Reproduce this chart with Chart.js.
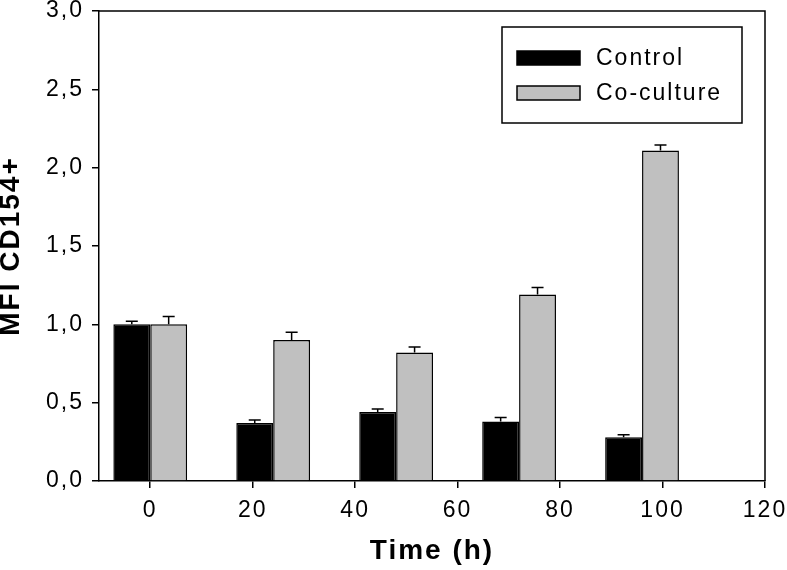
<!DOCTYPE html>
<html>
<head>
<meta charset="utf-8">
<script src="https://cdn.jsdelivr.net/npm/chart.js@4.4.1/dist/chart.umd.min.js"></script>
<style>
  html, body { margin: 0; padding: 0; background: #fff; }
  #wrap { width: 787px; height: 570px; }
</style>
</head>
<body>
<div id="wrap"><canvas id="chart"></canvas></div>
<script>
// time points (h) and MFI values
const times        = [0, 24, 48, 72, 96];
const control      = [1.00, 0.37, 0.44, 0.38, 0.28];
const controlErr   = [0.02, 0.02, 0.02, 0.025, 0.015];
const coculture    = [1.00, 0.90, 0.82, 1.19, 2.11];
const cocultureErr = [0.05, 0.05, 0.035, 0.045, 0.035];

const xTicks      = [0, 20, 40, 60, 80, 100, 120];
const yTicks      = [0, 0.5, 1.0, 1.5, 2.0, 2.5, 3.0];
const yTickLabels = ['0,0', '0,5', '1,0', '1,5', '2,0', '2,5', '3,0'];

const FONT = "'Liberation Sans', Arial, sans-serif";

// one-sided (upper) error bars on top of each bar
const errorBars = {
  id: 'errorBars',
  afterDatasetsDraw(chart) {
    const { ctx } = chart;
    const y = chart.scales.y;
    const errs = [controlErr, cocultureErr];
    ctx.save();
    ctx.strokeStyle = '#000';
    ctx.lineWidth = 1.5;
    chart.data.datasets.forEach((ds, di) => {
      chart.getDatasetMeta(di).data.forEach((bar, i) => {
        const top = y.getPixelForValue(ds.data[i].y + errs[di][i]);
        ctx.beginPath();
        ctx.moveTo(bar.x, bar.y);
        ctx.lineTo(bar.x, top);
        ctx.moveTo(bar.x - 6, top);
        ctx.lineTo(bar.x + 6, top);
        ctx.stroke();
      });
    });
    ctx.restore();
  }
};

// top/right frame + boxed legend inside the plot
const frameLegend = {
  id: 'frameLegend',
  beforeDraw(chart) {
    chart.ctx.letterSpacing = '2px';
  },
  afterDraw(chart) {
    const { ctx, chartArea: a } = chart;
    ctx.save();
    ctx.strokeStyle = '#000';
    ctx.lineWidth = 1.5;
    ctx.beginPath();
    ctx.moveTo(a.left, a.top);
    ctx.lineTo(a.right, a.top);
    ctx.lineTo(a.right, a.bottom);
    ctx.stroke();

    const bx = a.right - 263, by = a.top + 16, bw = 240, bh = 96;
    ctx.strokeRect(bx, by, bw, bh);
    ctx.font = '23px ' + FONT;
    ctx.textBaseline = 'middle';
    ctx.letterSpacing = '2px';
    chart.data.datasets.forEach((ds, i) => {
      const sy = by + 24 + i * 35;
      ctx.fillStyle = ds.backgroundColor;
      ctx.fillRect(bx + 15, sy, 63, 14);
      ctx.lineWidth = 1.5;
      ctx.strokeRect(bx + 15, sy, 63, 14);
      ctx.fillStyle = '#000';
      ctx.fillText(ds.label, bx + 94, sy + 8);
    });
    ctx.restore();
  }
};

new Chart(document.getElementById('chart'), {
  type: 'bar',
  data: {
    datasets: [
      {
        label: 'Control',
        data: times.map((t, i) => ({ x: t, y: control[i] })),
        backgroundColor: '#000000',
        borderColor: '#000000',
        borderWidth: 1.5
      },
      {
        label: 'Co-culture',
        data: times.map((t, i) => ({ x: t, y: coculture[i] })),
        backgroundColor: '#c0c0c0',
        borderColor: '#000000',
        borderWidth: 1.5
      }
    ]
  },
  options: {
    responsive: true,
    maintainAspectRatio: false,
    animation: false,
    categoryPercentage: 0.72,
    barPercentage: 1.0,
    layout: { padding: { top: 11, right: 22, left: 0, bottom: 0 } },
    plugins: {
      legend: { display: false },
      tooltip: { enabled: false }
    },
    scales: {
      x: {
        type: 'linear',
        min: -10,
        max: 120,
        offset: false,
        afterBuildTicks: s => { s.ticks = xTicks.map(v => ({ value: v })); },
        afterFit: s => { s.height = 89; s.paddingLeft = 0; s.paddingRight = 0; },
        ticks: { color: '#000', padding: 9, font: { family: FONT, size: 23 } },
        grid: { offset: false, drawOnChartArea: false, drawTicks: true, tickLength: 7, color: '#000', lineWidth: 1.5 },
        border: { display: true, color: '#000', width: 1.5 },
        title: {
          display: true,
          text: 'Time (h)',
          color: '#000',
          padding: { top: 0, bottom: 1.5 },
          font: { family: FONT, size: 28, weight: 'bold' }
        }
      },
      y: {
        min: 0,
        max: 3,
        afterBuildTicks: s => { s.ticks = yTicks.map(v => ({ value: v })); },
        afterFit: s => { s.width = 99; s.paddingTop = 0; s.paddingBottom = 0; },
        ticks: {
          color: '#000',
          padding: 8,
          font: { family: FONT, size: 23 },
          callback: (v, i) => yTickLabels[i]
        },
        grid: { drawOnChartArea: false, drawTicks: true, tickLength: 7, color: '#000', lineWidth: 1.5 },
        border: { display: true, color: '#000', width: 1.5 },
        title: {
          display: true,
          text: 'MFI CD154+',
          color: '#000',
          padding: 0,
          font: { family: FONT, size: 28, weight: 'bold', lineHeight: 0.8 }
        }
      }
    }
  },
  plugins: [errorBars, frameLegend]
});
</script>
</body>
</html>
